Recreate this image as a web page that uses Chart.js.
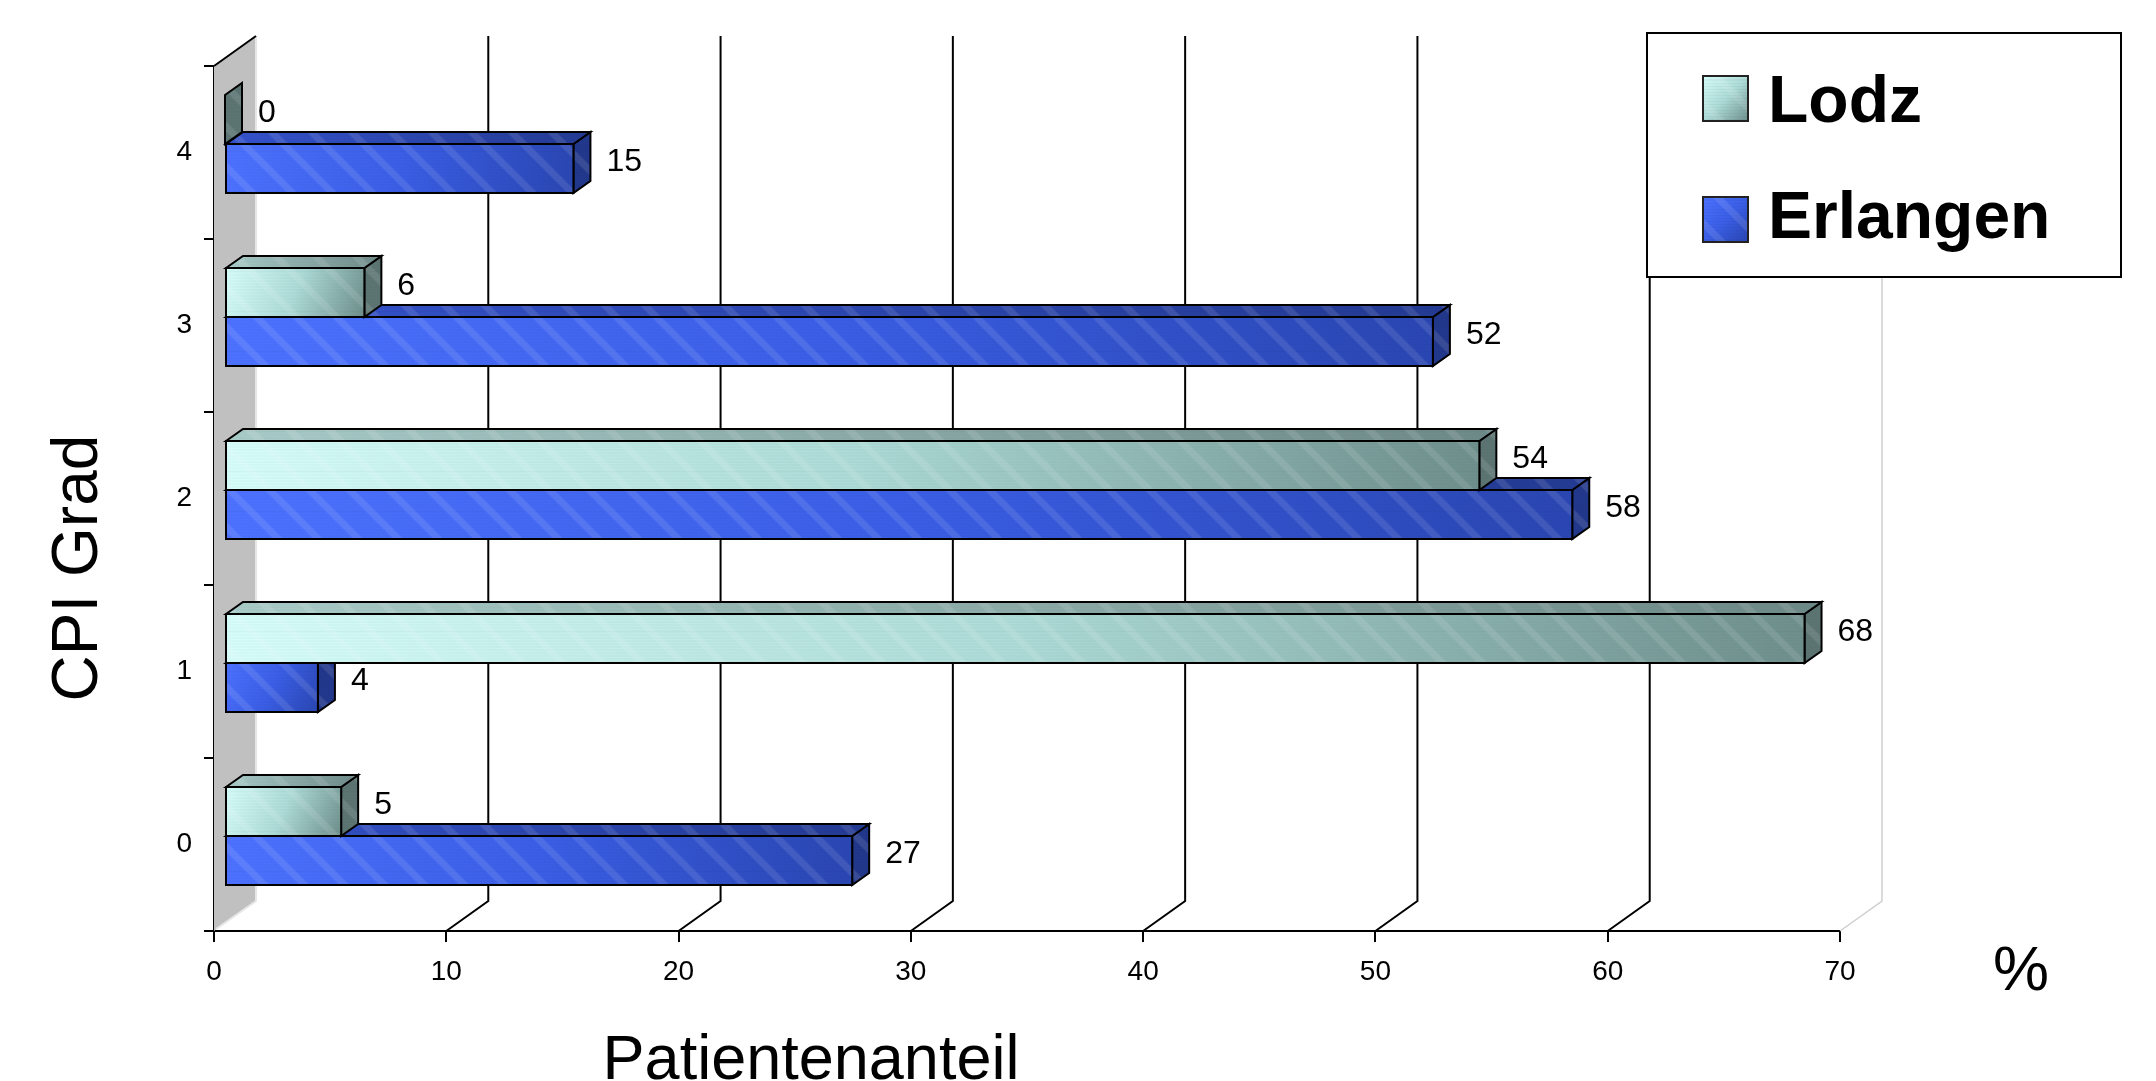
<!DOCTYPE html>
<html>
<head>
<meta charset="utf-8">
<title>CPI Grad – Lodz / Erlangen</title>
<script src="https://cdn.jsdelivr.net/npm/chart.js@4.4.1/dist/chart.umd.min.js"></script>
<style>
  html, body { margin: 0; padding: 0; background: #ffffff; }
  #wrap { width: 2156px; height: 1081px; position: relative; }
</style>
</head>
<body>
<div id="wrap"><canvas id="cpi-chart" width="2156" height="1081"></canvas></div>
<script>
// chart data
const categories = ['0', '1', '2', '3', '4'];
const seriesNames = ['Lodz', 'Erlangen'];
const lodzValues = [5, 68, 54, 6, 0];
const erlangenValues = [27, 4, 58, 52, 15];
const xMin = 0;
const xMax = 70;
const xStep = 10;
const xTitle = 'Patientenanteil';
const yTitle = 'CPI Grad';
const unitLabel = '%';

const FONT = '"Liberation Sans", Arial, sans-serif';

// 3D look: bar depth, shift of the bar plane, depth of the back wall
const BAR_DX = 17, BAR_DY = -12;
const SHIFT_X = 11, SHIFT_Y = -8.5;
const WALL_DX = 42, WALL_DY = -30;

const faceStyles = [
  { // Lodz
    front: ['#d6fdfa', '#addbd7', '#6e8f8c'],
    top: ['#a9ccc9', '#6e8a88'],
    side: '#5c7573'
  },
  { // Erlangen
    front: ['#4c72ff', '#3a5ee6', '#2a46b2'],
    top: ['#3452cc', '#243b94'],
    side: '#22388c'
  }
];

let stripePattern = null;
function getStripes(ctx) {
  if (stripePattern) return stripePattern;
  const c = document.createElement('canvas');
  c.width = 40; c.height = 40;
  const p = c.getContext('2d');
  p.fillStyle = 'rgba(0,0,0,0.035)';
  for (let yy = 0; yy < 40; yy += 3) p.fillRect(0, yy, 40, 1);
  p.strokeStyle = 'rgba(255,255,255,0.10)';
  p.lineWidth = 7;
  p.beginPath();
  p.moveTo(-10, -10); p.lineTo(50, 50);
  p.moveTo(-30, 10); p.lineTo(30, 70);
  p.moveTo(10, -30); p.lineTo(70, 30);
  p.stroke();
  stripePattern = ctx.createPattern(c, 'repeat');
  return stripePattern;
}

function linGrad(ctx, x0, y0, x1, y1, stops) {
  const g = ctx.createLinearGradient(x0, y0, x1, y1);
  stops.forEach((s, i) => g.addColorStop(i / (stops.length - 1), s));
  return g;
}

function drawBox(ctx, left, right, top, bottom, st) {
  ctx.lineWidth = 2;
  ctx.lineJoin = 'miter';
  ctx.strokeStyle = '#000';

  // side face
  ctx.beginPath();
  ctx.moveTo(right, top);
  ctx.lineTo(right + BAR_DX, top + BAR_DY);
  ctx.lineTo(right + BAR_DX, bottom + BAR_DY);
  ctx.lineTo(right, bottom);
  ctx.closePath();
  ctx.fillStyle = st.side;
  ctx.fill();
  ctx.fillStyle = getStripes(ctx);
  ctx.fill();
  ctx.stroke();

  if (right - left > 0.5) {
    // top face
    ctx.beginPath();
    ctx.moveTo(left, top);
    ctx.lineTo(left + BAR_DX, top + BAR_DY);
    ctx.lineTo(right + BAR_DX, top + BAR_DY);
    ctx.lineTo(right, top);
    ctx.closePath();
    ctx.fillStyle = linGrad(ctx, left, top, right + BAR_DX, top, st.top);
    ctx.fill();
    ctx.fillStyle = getStripes(ctx);
    ctx.fill();
    ctx.stroke();

    // front face
    ctx.beginPath();
    ctx.rect(left, top, right - left, bottom - top);
    ctx.fillStyle = linGrad(ctx, left, top, right, bottom, st.front);
    ctx.fill();
    ctx.fillStyle = getStripes(ctx);
    ctx.fill();
    ctx.stroke();
  }
}

const depthPlugin = {
  id: 'depth3d',
  beforeDatasetsDraw(chart) {
    const { ctx, chartArea: a, scales: { x } } = chart;
    ctx.save();
    // left wall
    ctx.beginPath();
    ctx.moveTo(a.left, a.top);
    ctx.lineTo(a.left + WALL_DX, a.top + WALL_DY);
    ctx.lineTo(a.left + WALL_DX, a.bottom + WALL_DY);
    ctx.lineTo(a.left, a.bottom);
    ctx.closePath();
    ctx.fillStyle = '#c0c0c0';
    ctx.fill();
    ctx.strokeStyle = '#e6e6e6';
    ctx.lineWidth = 2;
    ctx.beginPath();
    ctx.moveTo(a.left + WALL_DX, a.top + WALL_DY);
    ctx.lineTo(a.left + WALL_DX, a.bottom + WALL_DY);
    ctx.lineTo(a.left + 2, a.bottom - 2);
    ctx.stroke();
    ctx.strokeStyle = '#000';
    ctx.beginPath();
    ctx.moveTo(a.left, a.top);
    ctx.lineTo(a.left + WALL_DX, a.top + WALL_DY);
    ctx.stroke();

    // back grid lines and floor diagonals
    for (let v = xMin + xStep; v <= xMax; v += xStep) {
      const px = x.getPixelForValue(v);
      const last = v === xMax;
      ctx.strokeStyle = last ? '#cfcfcf' : '#000';
      ctx.lineWidth = last ? 1.5 : 2;
      ctx.beginPath();
      ctx.moveTo(px, a.bottom);
      ctx.lineTo(px + WALL_DX, a.bottom + WALL_DY);
      ctx.lineTo(px + WALL_DX, a.top + WALL_DY);
      ctx.stroke();
    }
    ctx.restore();
  },
  beforeDatasetDraw(chart) {
    chart.ctx.save();
    chart.ctx.translate(SHIFT_X, SHIFT_Y);
  },
  afterDatasetDraw(chart, args) {
    const ctx = chart.ctx;
    const st = faceStyles[args.index];
    args.meta.data.forEach(el => {
      const { x, y, base, height } = el.getProps(['x', 'y', 'base', 'height'], true);
      const left = Math.min(x, base), right = Math.max(x, base);
      drawBox(ctx, left, right, y - height / 2, y + height / 2, st);
    });
    ctx.restore();
  },
  afterDatasetsDraw(chart) {
    const ctx = chart.ctx;
    ctx.save();
    ctx.font = '32px ' + FONT;
    ctx.fillStyle = '#000';
    ctx.textAlign = 'left';
    ctx.textBaseline = 'middle';
    chart.data.datasets.forEach((ds, i) => {
      const meta = chart.getDatasetMeta(i);
      meta.data.forEach((el, j) => {
        const { x, y, base } = el.getProps(['x', 'y', 'base'], true);
        const end = Math.max(x, base);
        ctx.fillText(String(ds.data[j]), end + SHIFT_X + 33, y + SHIFT_Y - 6);
      });
    });
    ctx.restore();
  },
  afterDraw(chart) {
    const ctx = chart.ctx;
    ctx.save();
    // axis titles
    ctx.fillStyle = '#000';
    ctx.font = '63px ' + FONT;
    ctx.textAlign = 'center';
    ctx.textBaseline = 'alphabetic';
    ctx.fillText(xTitle, 811, 1079);
    ctx.fillText(unitLabel, 2021, 990);
    ctx.save();
    ctx.translate(97, 568);
    ctx.rotate(-Math.PI / 2);
    ctx.font = '64px ' + FONT;
    ctx.fillText(yTitle, 0, 0);
    ctx.restore();

    // legend
    const box = { x: 1647, y: 33, w: 474, h: 244 };
    ctx.fillStyle = '#fff';
    ctx.fillRect(box.x, box.y, box.w, box.h);
    ctx.strokeStyle = '#000';
    ctx.lineWidth = 2;
    ctx.strokeRect(box.x, box.y, box.w, box.h);
    const rows = [{ top: 76, base: 122 }, { top: 197, base: 238 }];
    seriesNames.forEach((name, i) => {
      const st = faceStyles[i];
      const r = rows[i];
      ctx.fillStyle = linGrad(ctx, 1703, r.top, 1748, r.top + 45, st.front);
      ctx.fillRect(1703, r.top, 45, 45);
      ctx.fillStyle = getStripes(ctx);
      ctx.fillRect(1703, r.top, 45, 45);
      ctx.lineWidth = 2;
      ctx.strokeStyle = '#222';
      ctx.strokeRect(1703, r.top, 45, 45);
      ctx.fillStyle = '#000';
      ctx.font = 'bold 66px ' + FONT;
      ctx.textAlign = 'left';
      ctx.fillText(name, 1768, r.base);
    });
    ctx.restore();
  }
};

const canvas = document.getElementById('cpi-chart');
new Chart(canvas.getContext('2d'), {
  type: 'bar',
  data: {
    labels: categories,
    datasets: [
      { label: seriesNames[0], data: lodzValues, backgroundColor: '#a6cdca', borderColor: '#000', borderWidth: 0, clip: false },
      { label: seriesNames[1], data: erlangenValues, backgroundColor: '#3a5ee6', borderColor: '#000', borderWidth: 0, clip: false }
    ]
  },
  options: {
    indexAxis: 'y',
    responsive: false,
    animation: false,
    devicePixelRatio: 1,
    layout: { padding: { left: 0, top: 66, right: 316, bottom: 0 } },
    datasets: { bar: { categoryPercentage: 0.566, barPercentage: 1 } },
    plugins: { legend: { display: false }, tooltip: { enabled: false } },
    scales: {
      x: {
        type: 'linear',
        min: xMin,
        max: xMax,
        ticks: { stepSize: xStep, color: '#000', font: { family: FONT, size: 28 }, padding: 13 },
        grid: { drawOnChartArea: false, color: '#000', lineWidth: 2, tickLength: 11 },
        border: { color: '#000', width: 2 },
        afterFit: s => { s.height = 150; }
      },
      y: {
        type: 'category',
        reverse: true,
        ticks: { color: '#000', font: { family: FONT, size: 28 }, padding: 12 },
        grid: { offset: true, drawOnChartArea: false, color: '#000', lineWidth: 2, tickLength: 10 },
        border: { color: '#000', width: 2 },
        afterFit: s => { s.width = 214; }
      }
    }
  },
  plugins: [depthPlugin]
});
</script>
</body>
</html>
